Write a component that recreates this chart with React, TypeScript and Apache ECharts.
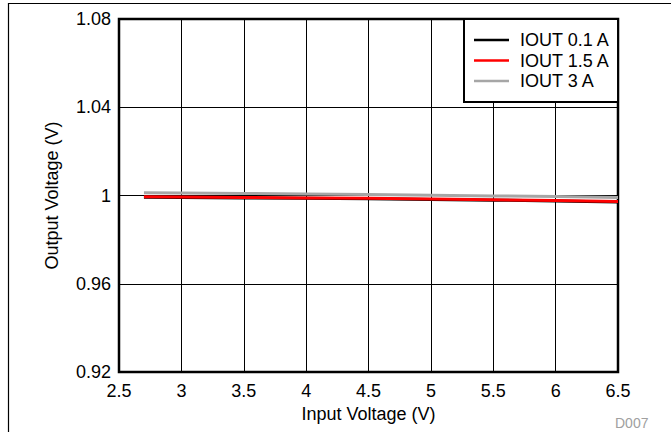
import React, { useEffect, useRef } from "react";
import * as echarts from "echarts";

const inputVoltage = [2.7, 3, 3.5, 4, 4.5, 5, 5.5, 6, 6.5];
const iout01 = [0.9992, 0.9991, 0.9989, 0.9987, 0.9985, 0.9982, 0.9979, 0.9975, 0.9971];
const iout15 = [0.9994, 0.9993, 0.9991, 0.9989, 0.9987, 0.9984, 0.9981, 0.9977, 0.9973];
const iout3 = [1.0012, 1.0011, 1.0009, 1.0007, 1.0004, 1.0001, 0.9998, 0.9995, 0.9991];
const seriesNames = ["IOUT 0.1 A", "IOUT 1.5 A", "IOUT 3 A"];
const seriesColors = ["#000000", "#ff0000", "#a6a6a6"];
const xAxisTitle = "Input Voltage (V)";
const yAxisTitle = "Output Voltage (V)";
const figureId = "D007";

const FONT = "Arial, 'Liberation Sans', sans-serif";

export default function App() {
  const ref = useRef<HTMLDivElement>(null);
  useEffect(() => {
    if (!ref.current) return;
    const chart = echarts.init(ref.current, undefined, { renderer: "svg" });
    const values = [iout01, iout15, iout3];
    chart.setOption({
      animation: false,
      backgroundColor: "#ffffff",
      grid: {
        left: 119,
        right: 53,
        top: 19,
        bottom: 60,
        show: true,
        borderColor: "#000",
        borderWidth: 2.5,
      },
      xAxis: {
        type: "value",
        min: 2.5,
        max: 6.5,
        interval: 0.5,
        name: xAxisTitle,
        nameLocation: "middle",
        nameGap: 33,
        nameTextStyle: { fontFamily: FONT, fontSize: 18, color: "#000" },
        axisLine: { show: false },
        axisTick: { show: false },
        axisLabel: { fontFamily: FONT, fontSize: 18, color: "#000", margin: 10 },
        splitLine: { show: true, lineStyle: { color: "#000", width: 1 } },
      },
      yAxis: {
        type: "value",
        min: 0.92,
        max: 1.08,
        interval: 0.04,
        name: yAxisTitle,
        nameLocation: "middle",
        nameGap: 58,
        nameTextStyle: { fontFamily: FONT, fontSize: 18, color: "#000" },
        axisLine: { show: false },
        axisTick: { show: false },
        axisLabel: { fontFamily: FONT, fontSize: 18, color: "#000", margin: 8 },
        splitLine: { show: true, lineStyle: { color: "#000", width: 1 } },
      },
      legend: {
        orient: "vertical",
        left: 464,
        top: 19,
        padding: [12, 8, 12, 10],
        icon: "rect",
        itemWidth: 35,
        itemHeight: 2.5,
        itemGap: 2.5,
        backgroundColor: "#fff",
        borderColor: "#000",
        borderWidth: 2,
        borderRadius: 0,
        textStyle: {
          fontFamily: FONT,
          fontSize: 18,
          color: "#000",
          padding: [0, 0, 0, 6],
          lineHeight: 18,
        },
        data: seriesNames,
      },
      series: seriesNames.map((name, i) => ({
        name,
        type: "line",
        showSymbol: false,
        symbol: "none",
        data: inputVoltage.map((x, j) => [x, values[i][j]]),
        lineStyle: { color: seriesColors[i], width: 3 },
        itemStyle: { color: seriesColors[i] },
      })),
      graphic: [
        {
          type: "rect",
          shape: { x: 8.5, y: 3.5, width: 800, height: 600 },
          style: { fill: "none", stroke: "#000", lineWidth: 1.2 },
          silent: true,
        },
        {
          type: "text",
          x: 615,
          y: 416,
          style: { text: figureId, fontFamily: FONT, fontSize: 14, fill: "#a0a0a0" },
        },
      ],
    });
    return () => chart.dispose();
  }, []);
  return (
    <div
      ref={ref}
      style={{ position: "fixed", left: 0, top: 0, width: 671, height: 432 }}
    />
  );
}
